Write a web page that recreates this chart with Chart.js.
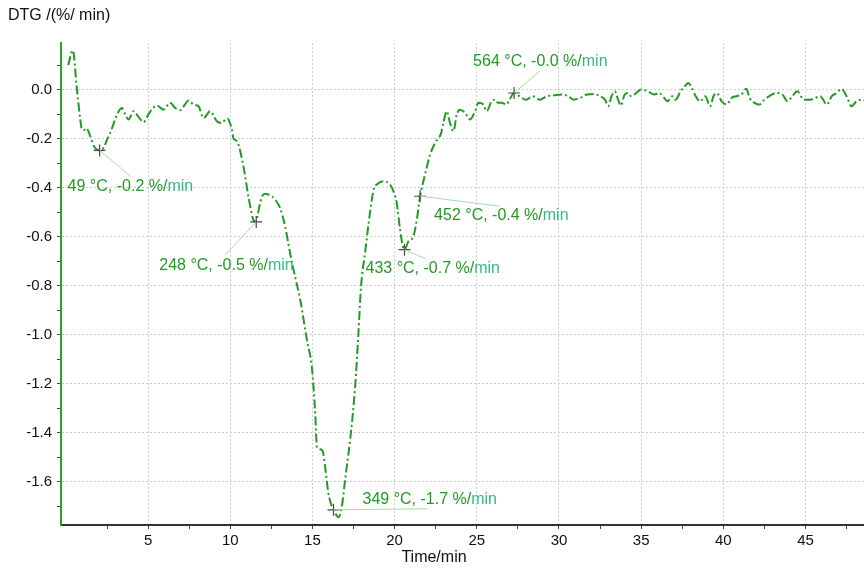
<!DOCTYPE html>
<html>
<head>
<meta charset="utf-8">
<script src="https://cdn.jsdelivr.net/npm/chart.js@4.4.1/dist/chart.umd.min.js"></script>
<style>
html,body{margin:0;padding:0;background:#fff;}
#wrap{width:864px;height:568px;position:relative;}
</style>
</head>
<body>
<div id="wrap"><canvas id="c" width="864" height="568"></canvas></div>
<script>
// ---- data ----
const timeMin = [0.14,0.42,0.67,0.87,0.97,1.10,1.24,1.48,1.70,1.88,2.05,2.29,2.50,2.70,3.00,3.20,3.40,3.60,3.81,4.11,4.40,4.72,5.03,5.30,5.53,5.94,6.34,6.65,6.95,7.20,7.46,7.76,8.07,8.37,8.78,9.18,9.49,9.70,9.83,10.0,10.1,10.2,10.4,10.8,11.1,11.4,11.58,11.65,11.82,11.98,12.15,12.32,12.53,12.73,13.03,13.34,13.64,13.95,14.25,14.66,14.96,15.06,15.17,15.27,15.47,15.63,15.77,15.97,16.18,16.28,16.45,16.58,16.79,16.99,17.29,17.60,17.80,17.96,18.2,18.5,18.75,18.9,19.3,19.68,19.93,20.13,20.33,20.5,20.6,20.84,21.14,21.35,21.55,21.85,22.16,22.46,22.67,22.8,22.97,23.17,23.37,23.58,23.78,23.98,24.29,24.59,24.9,25.1,25.4,25.6,25.9,26.1,26.3,26.5,26.8,27.0,27.27,27.6,28.0,28.4,28.85,29.25,29.66,30.17,30.57,30.88,31.3,31.7,32.1,32.5,32.8,33.0,33.2,33.4,33.6,33.76,34.0,34.2,34.4,34.7,35.0,35.4,35.8,36.1,36.4,36.6,36.9,37.1,37.4,37.67,37.87,38.08,38.3,38.6,38.9,39.2,39.4,39.6,39.9,40.2,40.5,40.8,41.1,41.4,41.6,41.9,42.2,42.5,42.8,43.2,43.6,43.9,44.2,44.5,44.9,45.3,45.6,45.9,46.3,46.6,46.9,47.2,47.5,47.8,48.1,48.4,48.56];
const dtg = [0.10,0.16,0.00,-0.12,-0.163,-0.165,-0.157,-0.19,-0.23,-0.245,-0.248,-0.237,-0.205,-0.176,-0.12,-0.09,-0.075,-0.10,-0.122,-0.088,-0.11,-0.133,-0.10,-0.075,-0.065,-0.082,-0.054,-0.075,-0.084,-0.065,-0.045,-0.061,-0.068,-0.116,-0.088,-0.129,-0.136,-0.122,-0.118,-0.14,-0.163,-0.20,-0.21,-0.313,-0.435,-0.53,-0.54,-0.517,-0.462,-0.431,-0.425,-0.428,-0.435,-0.449,-0.483,-0.558,-0.667,-0.765,-0.855,-1.02,-1.129,-1.21,-1.32,-1.456,-1.467,-1.476,-1.537,-1.646,-1.70,-1.714,-1.735,-1.745,-1.70,-1.59,-1.43,-1.21,-0.99,-0.80,-0.667,-0.503,-0.40,-0.388,-0.374,-0.384,-0.415,-0.463,-0.571,-0.64,-0.653,-0.619,-0.599,-0.531,-0.435,-0.347,-0.265,-0.218,-0.197,-0.184,-0.136,-0.088,-0.136,-0.17,-0.102,-0.082,-0.095,-0.122,-0.088,-0.054,-0.061,-0.088,-0.048,-0.041,-0.054,-0.054,-0.061,-0.04,-0.014,-0.027,-0.041,-0.027,-0.041,-0.027,-0.024,-0.02,-0.027,-0.041,-0.034,-0.02,-0.018,-0.027,-0.041,-0.068,-0.027,-0.007,-0.041,-0.065,-0.02,-0.014,-0.027,-0.014,0.0,-0.007,-0.02,-0.014,-0.034,-0.048,-0.027,-0.041,-0.007,0.014,0.027,0.007,-0.025,-0.048,-0.027,-0.068,-0.027,-0.014,-0.048,-0.061,-0.034,-0.027,-0.02,0.003,-0.034,-0.054,-0.061,-0.041,-0.027,-0.014,-0.02,-0.048,-0.027,-0.007,-0.041,-0.041,-0.034,-0.027,-0.061,-0.027,-0.014,0.003,-0.027,-0.068,-0.048,-0.041,-0.045];

const peakTime = [2.05, 11.58, 16.28, 20.6, 21.55, 27.27];
const peakDtg  = [-0.248, -0.54, -1.714, -0.653, -0.435, -0.014];
const peakLabels = ['49 °C, -0.2 %/', '248 °C, -0.5 %/', '349 °C, -1.7 %/', '433 °C, -0.7 %/', '452 °C, -0.4 %/', '564 °C, -0.0 %/'];
const peakUnit = 'min';

const xMajorTicks = [5,10,15,20,25,30,35,40,45];
const xMinorTicks = [2.5,7.5,12.5,17.5,22.5,27.5,32.5,37.5,42.5,47.5];
const yMajorTicks = [0.0,-0.2,-0.4,-0.6,-0.8,-1.0,-1.2,-1.4,-1.6];
const yMinorTicks = [0.1,-0.1,-0.3,-0.5,-0.7,-0.9,-1.1,-1.3,-1.5,-1.7];
const yTickLabels = ['0.0','-0.2','-0.4','-0.6','-0.8','-1.0','-1.2','-1.4','-1.6'];
const xTickLabels = ['5','10','15','20','25','30','35','40','45'];

const yTitle = 'DTG /(%/ min)';
const xTitle = 'Time/min';

// ---- styling / layout ----
const FONT = '"Liberation Sans", Arial, sans-serif';
const GREEN = '#229a22';
const UNIT_GREEN = '#33b98a';
// label offsets in pixels relative to the peak marker: [textDx, textDy, leaderDx, leaderDy]
const labelOffsets = [[-32,36,31,26],[-97,44,-31,33],[29,-10,94,-1],[-39,19,21,9],[14,19,80,10],[-41,-31,26,-22]];

const seriesPts = timeMin.map((t,i)=>({x:t,y:dtg[i]}));
const peakPts = peakTime.map((t,i)=>({x:t,y:peakDtg[i]}));

function buildTicks(majors, minors){
  const arr = majors.map(v=>({value:v, major:true})).concat(minors.map(v=>({value:v, major:false})));
  arr.sort((a,b)=>a.value-b.value);
  return arr;
}

const annotPlugin = {
  id:'annot',
  afterDatasetsDraw(chart){
    const ctx = chart.ctx;
    const xs = chart.scales.x, ys = chart.scales.y;
    ctx.save();
    ctx.strokeStyle = '#a9d9a9';
    ctx.lineWidth = 1;
    peakPts.forEach((p,i)=>{
      const px = xs.getPixelForValue(p.x), py = ys.getPixelForValue(p.y);
      const o = labelOffsets[i];
      ctx.beginPath();
      ctx.moveTo(px,py);
      ctx.lineTo(px+o[2],py+o[3]);
      ctx.stroke();
    });
    ctx.font = '16px ' + FONT;
    ctx.textBaseline = 'middle';
    ctx.textAlign = 'left';
    peakPts.forEach((p,i)=>{
      const px = xs.getPixelForValue(p.x), py = ys.getPixelForValue(p.y);
      const o = labelOffsets[i];
      const tx = px+o[0], ty = py+o[1];
      ctx.fillStyle = GREEN;
      ctx.fillText(peakLabels[i], tx, ty);
      const w = ctx.measureText(peakLabels[i]).width;
      ctx.fillStyle = UNIT_GREEN;
      ctx.fillText(peakUnit, tx+w, ty);
    });
    ctx.restore();
  },
  afterDraw(chart){
    const ctx = chart.ctx;
    ctx.save();
    ctx.font = '16px ' + FONT;
    ctx.fillStyle = '#111';
    ctx.textBaseline = 'middle';
    ctx.textAlign = 'left';
    ctx.fillText(yTitle, 8, 16);
    ctx.textAlign = 'center';
    ctx.fillText(xTitle, 434, 558);
    ctx.restore();
  }
};

new Chart(document.getElementById('c'), {
  type:'line',
  data:{
    datasets:[
      {
        data: seriesPts,
        borderColor: GREEN,
        borderWidth: 2,
        borderDash: [9,3,2,3],
        pointRadius: 0,
        cubicInterpolationMode: 'monotone',
        fill:false,
        order: 2
      },
      {
        data: peakPts,
        showLine:false,
        pointStyle:'cross',
        pointRadius:6,
        pointBorderColor:'#4a4a4a',
        pointBorderWidth:1.2,
        borderColor:'#4a4a4a',
        order: 1
      }
    ]
  },
  options:{
    responsive:false,
    animation:false,
    devicePixelRatio:1,
    layout:{autoPadding:false, padding:{top:43,left:0,right:0,bottom:0}},
    plugins:{legend:{display:false}, tooltip:{enabled:false}},
    scales:{
      x:{
        type:'linear',
        min:-0.3, max:48.56,
        afterBuildTicks(s){ s.ticks = buildTicks(xMajorTicks, xMinorTicks); },
        afterFit(s){ s.height = 43; s.paddingRight = 0; s.paddingLeft = 0; },
        ticks:{
          autoSkip:false, maxRotation:0, padding:3,
          color:'#111', font:{family:FONT, size:15},
          callback(v,i,t){ const k = xMajorTicks.indexOf(t[i].value); return k>=0 ? xTickLabels[k] : ''; }
        },
        grid:{
          color:(c)=> (c.tick && c.tick.major) ? '#cfcfcf' : 'rgba(0,0,0,0)',
          lineWidth:1,
          tickColor:'#444',
          tickLength:4,
          tickWidth:1
        },
        border:{display:true, color:'#333', width:2, dash:[2,2]}
      },
      y:{
        type:'linear',
        min:-1.776, max:0.19,
        afterBuildTicks(s){ s.ticks = buildTicks(yMajorTicks, yMinorTicks); },
        afterFit(s){ s.width = 61; s.paddingTop = 0; s.paddingBottom = 0; },
        ticks:{
          autoSkip:false, padding:5,
          color:'#111', font:{family:FONT, size:15},
          callback(v,i,t){ const val=t[i].value; const k = yMajorTicks.findIndex(m=>Math.abs(m-val)<1e-9); return k>=0 ? yTickLabels[k] : ''; }
        },
        grid:{
          color:(c)=> (c.tick && c.tick.major) ? '#cfcfcf' : 'rgba(0,0,0,0)',
          lineWidth:1,
          tickColor:'#444',
          tickLength:4,
          tickWidth:1
        },
        border:{display:true, color:'#2e9e2e', width:2, dash:[2,2]}
      }
    }
  },
  plugins:[annotPlugin]
});
</script>
</body>
</html>
